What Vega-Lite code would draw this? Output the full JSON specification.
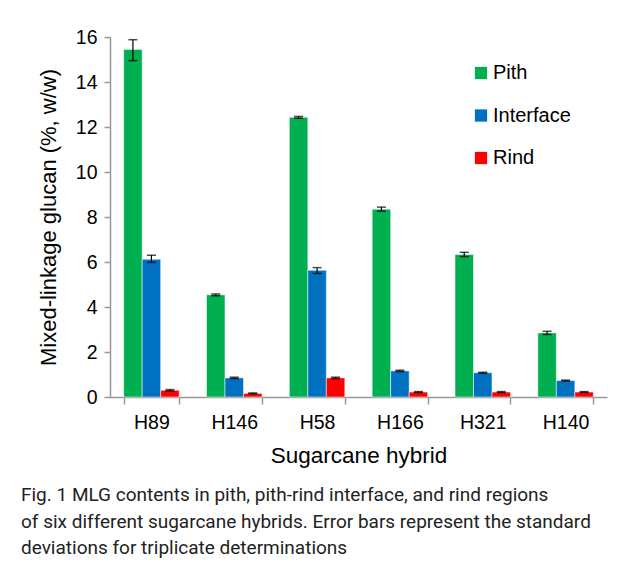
{
  "$schema": "https://vega.github.io/schema/vega-lite/v6.json",
  "width": 497,
  "height": 360,
  "autosize": {"type": "none"},
  "padding": {"left": 110, "top": 37, "right": 22, "bottom": 174},
  "background": "white",
  "title": {
    "text": ["Fig. 1  MLG contents in pith, pith-rind interface, and rind regions", "of six different sugarcane hybrids. Error bars represent the standard", "deviations for triplicate determinations"],
    "orient": "bottom",
    "anchor": "start",
    "frame": "group",
    "dx": -89,
    "offset": 19,
    "font": "Roboto",
    "fontSize": 19,
    "fontWeight": "normal",
    "color": "#222222",
    "lineHeight": 26.5
  },
  "data": {
    "values": [
      {"hybrid": "H89", "region": "Pith", "value": 15.45, "lo": 14.95, "hi": 15.88},
      {"hybrid": "H89", "region": "Interface", "value": 6.12, "lo": 5.98, "hi": 6.3},
      {"hybrid": "H89", "region": "Rind", "value": 0.3, "lo": 0.27, "hi": 0.33},
      {"hybrid": "H146", "region": "Pith", "value": 4.54, "lo": 4.5, "hi": 4.58},
      {"hybrid": "H146", "region": "Interface", "value": 0.85, "lo": 0.82, "hi": 0.88},
      {"hybrid": "H146", "region": "Rind", "value": 0.16, "lo": 0.14, "hi": 0.18},
      {"hybrid": "H58", "region": "Pith", "value": 12.43, "lo": 12.39, "hi": 12.47},
      {"hybrid": "H58", "region": "Interface", "value": 5.63, "lo": 5.49, "hi": 5.75},
      {"hybrid": "H58", "region": "Rind", "value": 0.85, "lo": 0.82, "hi": 0.88},
      {"hybrid": "H166", "region": "Pith", "value": 8.35, "lo": 8.26, "hi": 8.44},
      {"hybrid": "H166", "region": "Interface", "value": 1.16, "lo": 1.13, "hi": 1.19},
      {"hybrid": "H166", "region": "Rind", "value": 0.22, "lo": 0.2, "hi": 0.24},
      {"hybrid": "H321", "region": "Pith", "value": 6.33, "lo": 6.24, "hi": 6.43},
      {"hybrid": "H321", "region": "Interface", "value": 1.08, "lo": 1.05, "hi": 1.1},
      {"hybrid": "H321", "region": "Rind", "value": 0.22, "lo": 0.2, "hi": 0.24},
      {"hybrid": "H140", "region": "Pith", "value": 2.85, "lo": 2.78, "hi": 2.92},
      {"hybrid": "H140", "region": "Interface", "value": 0.73, "lo": 0.71, "hi": 0.75},
      {"hybrid": "H140", "region": "Rind", "value": 0.22, "lo": 0.2, "hi": 0.24}
    ]
  },
  "encoding": {
    "x": {
      "field": "hybrid",
      "type": "nominal",
      "sort": ["H89", "H146", "H58", "H166", "H321", "H140"],
      "scale": {"paddingInner": 0.33, "paddingOuter": 0.165},
      "axis": {
        "title": "Sugarcane hybrid",
        "titleFont": "Liberation Sans",
        "titleFontSize": 22.5,
        "titleFontWeight": "normal",
        "titleColor": "black",
        "titlePadding": 13,
        "labelFont": "Liberation Sans",
        "labelFontSize": 19.5,
        "labelColor": "black",
        "labelAngle": 0,
        "labelPadding": 9,
        "tickBand": "extent",
        "tickSize": 7,
        "tickColor": "#999999",
        "domainColor": "#999999",
        "domainWidth": 1.5,
        "tickWidth": 1.5
      }
    },
    "xOffset": {"field": "region", "type": "nominal", "sort": ["Pith", "Interface", "Rind"]}
  },
  "layer": [
    {
      "mark": {"type": "bar", "stroke": "white", "strokeOpacity": 0.5, "strokeWidth": 1},
      "encoding": {
        "y": {
          "field": "value",
          "type": "quantitative",
          "scale": {"domain": [0, 16], "nice": false},
          "axis": {
            "title": "Mixed-linkage glucan (%, w/w)",
            "titleFont": "Liberation Sans",
            "titleFontSize": 22,
            "titleFontWeight": "normal",
            "titleColor": "black",
            "titlePadding": 15,
            "labelFont": "Liberation Sans",
            "labelFontSize": 19.5,
            "labelColor": "black",
            "labelPadding": 7,
            "values": [0, 2, 4, 6, 8, 10, 12, 14, 16],
            "grid": false,
            "tickSize": 6,
            "tickColor": "#999999",
            "domainColor": "#999999",
            "domainWidth": 1.5,
            "tickWidth": 1.5
          }
        },
        "color": {
          "field": "region",
          "type": "nominal",
          "sort": ["Pith", "Interface", "Rind"],
          "scale": {"domain": ["Pith", "Interface", "Rind"], "range": ["#00B050", "#0070C0", "#FF0000"]},
          "legend": {
            "title": null,
            "orient": "none",
            "legendX": 361,
            "legendY": 26,
            "symbolType": "square",
            "symbolSize": 150,
            "symbolStrokeWidth": 0,
            "labelFont": "Liberation Sans",
            "labelFontSize": 20,
            "labelColor": "black",
            "labelOffset": 2,
            "rowPadding": 22.5
          }
        }
      }
    },
    {
      "mark": {"type": "rule", "color": "black", "strokeWidth": 1.2},
      "encoding": {
        "y": {"field": "lo", "type": "quantitative"},
        "y2": {"field": "hi"}
      }
    },
    {
      "mark": {"type": "tick", "color": "black", "size": 9, "thickness": 1.5},
      "encoding": {"y": {"field": "lo", "type": "quantitative"}}
    },
    {
      "mark": {"type": "tick", "color": "black", "size": 9, "thickness": 1.5},
      "encoding": {"y": {"field": "hi", "type": "quantitative"}}
    }
  ],
  "config": {"view": {"stroke": null}}
}
